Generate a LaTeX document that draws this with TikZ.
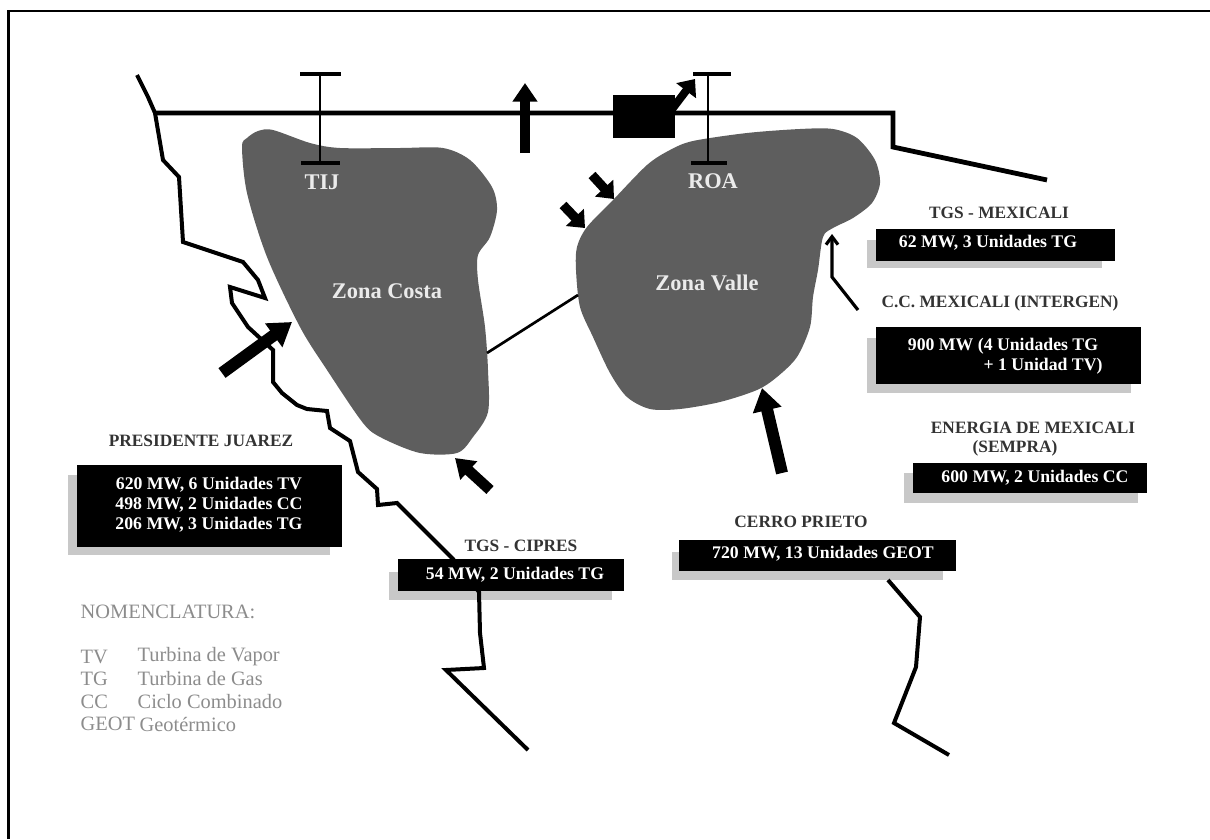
\documentclass[tikz,border=0pt]{standalone}
\usepackage{fontspec}
\setmainfont{Liberation Serif}
\usepackage{xcolor}
\usetikzlibrary{arrows.meta}
\definecolor{zonagris}{HTML}{5E5E5E}
\definecolor{sombra}{HTML}{C8C8C8}
\definecolor{nomengris}{HTML}{8C8C8C}
\tikzset{
  costa/.style={line width=3pt, line join=miter},
  gorda/.style={-{Triangle[length=17pt,width=21pt]}, line width=9pt},
  media/.style={-{Triangle[length=14pt,width=18pt]}, line width=8pt},
  chica/.style={-{Triangle[length=11pt,width=18pt]}, line width=7pt},
  caja/.style={fill=black},
  sombrabox/.style={fill=sombra},
  rotulo/.style={font=\fontsize{13}{15}\selectfont\bfseries, text=black!80},
  dato/.style={font=\fontsize{13.3}{15}\selectfont\bfseries, text=white},
  zonatxt/.style={font=\fontsize{16.8}{19}\selectfont\bfseries, text=white!92!black},
  nomen/.style={font=\fontsize{15.3}{18}\selectfont, text=nomengris, anchor=west}
}

\begin{document}
\begin{tikzpicture}[x=0.75pt, y=-0.75pt]
    \useasboundingbox (0,0) rectangle (1210,839);
    % Marco
    \draw[line width=2.2pt] (8.5,839) -- (8.5,11) -- (1210,11);

    % Zonas
    \fill[zonagris] plot[smooth cycle, tension=0.5] coordinates {
        (242,147) (247,138) (258,131) (273,130) (310,143) (340,148) (400,148)
        (443,148) (470,160) (492,187) (497,210) (490,237) (478,255) (478,280)
        (485,327) (488,370) (488,412) (473,437) (457,453) (420,453) (382,438)
        (363,423) (327,370) (300,327) (267,257) (247,193)};
    \fill[zonagris] plot[smooth cycle, tension=0.5] coordinates {
        (577,247) (587,227) (613,200) (647,165) (670,150) (693,141) (747,133)
        (800,129) (833,129) (857,138) (875,160) (880,183) (872,203) (853,218)
        (833,228) (823,237) (818,270) (813,297) (810,327) (797,357) (777,377)
        (757,390) (720,402) (680,409) (650,409) (627,397) (610,373) (593,337)
        (580,307) (576,270)};

    % Sombras de las cajas
    \fill[sombrabox] (68,475) rectangle (330,555);
    \fill[sombrabox] (389,572) rectangle (612,600);
    \fill[sombrabox] (672,552) rectangle (943,580);
    \fill[sombrabox] (904,473) rectangle (1138,503);
    \fill[sombrabox] (867,240) rectangle (1102,268);
    \fill[sombrabox] (867,338) rectangle (1131,393);

    % Costa
    \draw[costa] (137,75) -- (148,97) -- (155,113) -- (163,160) -- (179,177)
        -- (183,242) -- (243,262) -- (258,280) -- (265,298) -- (230,287)
        -- (232,303) -- (248,327) -- (273,350) -- (273,382) -- (282,393)
        -- (297,405) -- (307,409) -- (327,411) -- (330,428) -- (350,441)
        -- (358,472) -- (377,489) -- (378,505) -- (397,503) -- (453,559)
        -- (479,592) -- (480,633) -- (484,668) -- (446,670) -- (528,750);
    \draw[costa] (888,580) -- (920,617) -- (916,667) -- (894,723) -- (949,755);

    % Linea de transmision
    \draw[line width=3.6pt] (155,113) -- (893,113) -- (893,147) -- (1047,180);
    \draw[line width=2pt] (487,353) -- (578,295);
    \fill (613,95) rectangle (675,138);

    % Enlaces TIJ y ROA
    \foreach \xa/\ca/\cb/\cc/\cd in {320/300/341/301/340, 708/693/731/691/727} {
        \draw[line width=2pt] (\xa,74) -- (\xa,163);
        \draw[line width=2.4pt] (\ca,74) -- (\cb,74);
        \draw[line width=2.4pt] (\cc,163) -- (\cd,163);
    }

    % Flechas
    \coordinate (bcentro) at (222,373);
    \coordinate (tcentro) at (292,322);
    \draw[gorda] (bcentro) -- (tcentro);
    \coordinate (bnorte) at (525,153);
    \coordinate (tnorte) at (525,83);
    \draw[media] (bnorte) -- (tnorte);
    \coordinate (bcaja) at (660,125);
    \coordinate (tcaja) at (695,79);
    \draw[chica, line width=6pt] (bcaja) -- (tcaja);
    \coordinate (bdoble) at (592,175);
    \coordinate (tdoble) at (614,199);
    \draw[chica] (bdoble) -- (tdoble);
    \coordinate (bdobleb) at (563,205);
    \coordinate (tdobleb) at (585,228);
    \draw[chica] (bdobleb) -- (tdobleb);
    \coordinate (bcipres) at (490,490);
    \coordinate (tcipres) at (455,458);
    \draw[media] (bcipres) -- (tcipres);
    \coordinate (bcerro) at (782,473);
    \coordinate (tcerro) at (762,388);
    \draw[gorda] (bcerro) -- (tcerro);
    \coordinate (binter) at (858,310);
    \coordinate (ainter) at (832,277);
    \coordinate (tinter) at (832,234);
    \draw[line width=2.4pt, -{Straight Barb[length=6pt,width=9pt]}] (binter) -- (ainter) -- (tinter);

    % Textos de zona
    \node[zonatxt] (tij) at (322,182) {TIJ};
    \node[zonatxt] (roa) at (713,181) {ROA};
    \node[zonatxt] (zcosta) at (387,291) {Zona Costa};
    \node[zonatxt] (zvalle) at (707,283) {Zona Valle};

    % Presidente Juarez
    \node[rotulo] (pjuarez) at (201,441) {PRESIDENTE JUAREZ};
    \fill[caja] (77,465) rectangle (342,547);
    \node[dato] (pjuno) at (209,485) {620 MW, 6 Unidades TV};
    \node[dato] (pjdos) at (209,505) {498 MW, 2 Unidades CC};
    \node[dato] (pjtres) at (209,525) {206 MW, 3 Unidades TG};

    % TGS Cipres
    \node[rotulo] (cipres) at (521,546) {TGS - CIPRES};
    \fill[caja] (398,559) rectangle (624,591);
    \node[dato] (cipdat) at (515,575) {54 MW, 2 Unidades TG};

    % Cerro Prieto
    \node[rotulo] (cerro) at (801,522) {CERRO PRIETO};
    \fill[caja] (679,540) rectangle (956,571);
    \node[dato] (cerdat) at (823,554) {720 MW, 13 Unidades GEOT};

    % Energia de Mexicali
    \node[rotulo] (energia) at (1033,428) {ENERGIA DE MEXICALI};
    \node[rotulo] (sempra) at (1015,448) {(SEMPRA)};
    \fill[caja] (913,463) rectangle (1147,493);
    \node[dato] (sempdat) at (1035,478) {600 MW, 2 Unidades CC};

    % TGS Mexicali
    \node[rotulo] (tgsmex) at (999,213) {TGS - MEXICALI};
    \fill[caja] (876,229) rectangle (1115,261);
    \node[dato] (tgsdat) at (988,243) {62 MW, 3 Unidades TG};

    % Intergen
    \node[rotulo] (intergen) at (1000,303) {C.C. MEXICALI (INTERGEN)};
    \fill[caja] (876,327) rectangle (1141,384);
    \node[dato] (interuno) at (1003,346) {900 MW (4 Unidades TG};
    \node[dato] (interdos) at (1043,366) {+ 1 Unidad TV)};

    % Nomenclatura
    \node[nomen] (nomtit) at (76,612) {NOMENCLATURA:};
    \foreach \yy/\sa/\sb in {657/TV/Turbina de Vapor, 679/TG/Turbina de Gas, 702/CC/Ciclo Combinado} {
        \node[nomen] at (76,\yy) {\sa};
        \node[nomen] at (133,\yy) {\sb};
    }
    \node[nomen] (nomgeot) at (76,724) {GEOT};
    \node[nomen] (nomgeo) at (135,724) {Geotérmico};
\end{tikzpicture}
\end{document}
